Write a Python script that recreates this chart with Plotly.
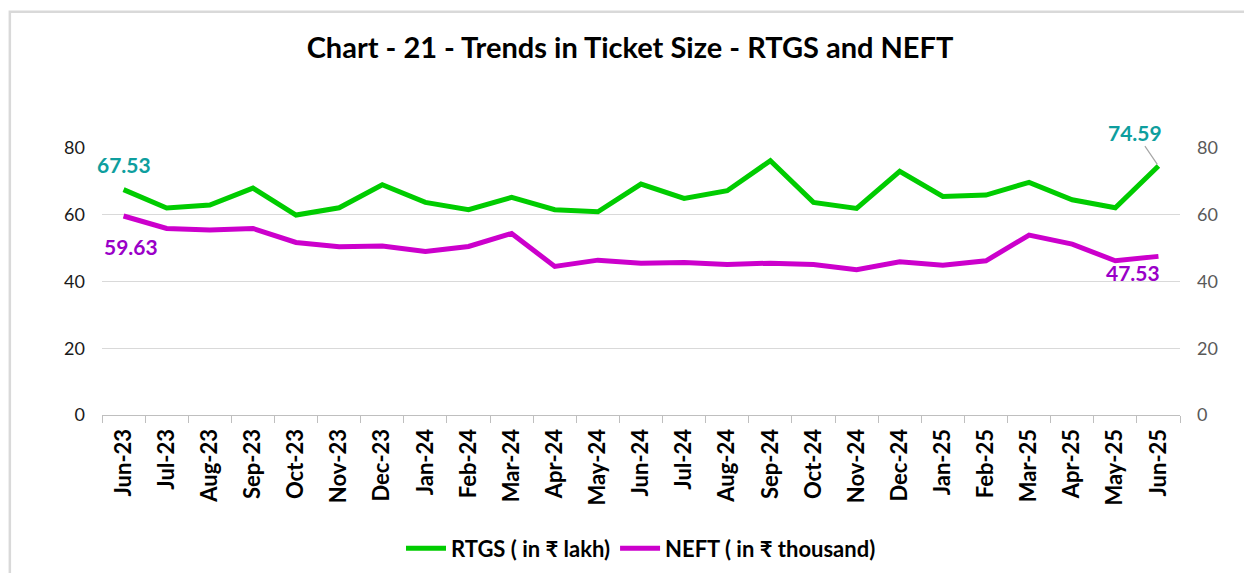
import plotly.graph_objects as go

# ── data ──────────────────────────────────────────────
months = [
    "Jun-23", "Jul-23", "Aug-23", "Sep-23", "Oct-23", "Nov-23", "Dec-23",
    "Jan-24", "Feb-24", "Mar-24", "Apr-24", "May-24", "Jun-24", "Jul-24",
    "Aug-24", "Sep-24", "Oct-24", "Nov-24", "Dec-24", "Jan-25", "Feb-25",
    "Mar-25", "Apr-25", "May-25", "Jun-25",
]
rtgs = [
    67.53, 62.0, 62.9, 68.0, 59.9, 62.1, 69.0, 63.7, 61.5, 65.2, 61.5, 60.9,
    69.2, 64.9, 67.2, 76.2, 63.7, 61.9, 73.0, 65.5, 65.9, 69.7, 64.5, 62.1, 74.59,
]
neft = [
    59.63, 55.9, 55.4, 55.9, 51.7, 50.4, 50.6, 49.0, 50.5, 54.4, 44.5, 46.4,
    45.5, 45.7, 45.1, 45.5, 45.1, 43.5, 45.9, 44.9, 46.2, 53.9, 51.2, 46.2, 47.53,
]
y_ticks = [0, 20, 40, 60, 80]

GREEN = "#00CC00"
MAGENTA = "#CC00CC"
TEAL = "#0E9E9E"
PURPLE = "#9A00C8"
FONT = "Lato"

fig = go.Figure()
fig.add_trace(go.Scatter(
    x=months, y=rtgs, mode="lines", name="RTGS ( in ₹ lakh)",
    line=dict(color=GREEN, width=5),
))
fig.add_trace(go.Scatter(
    x=months, y=neft, mode="lines", name="NEFT ( in ₹ thousand)",
    line=dict(color=MAGENTA, width=5), yaxis="y2",
))

# 首尾数据标签
lab_font = dict(family=FONT, size=21, color=TEAL)
annos = [
    dict(x=months[0], y=rtgs[0], yref="y", text=f"<b>{rtgs[0]:.2f}</b>",
         showarrow=False, yshift=25, font=lab_font),
    dict(x=months[-1], y=rtgs[-1], yref="y", text=f"<b>{rtgs[-1]:.2f}</b>",
         showarrow=True, arrowhead=0, arrowwidth=1.2, arrowcolor="#A6A6A6",
         ax=-23, ay=-34, standoff=2, font=lab_font),
    dict(x=months[0], y=neft[0], yref="y2", text=f"<b>{neft[0]:.2f}</b>",
         showarrow=False, yshift=-31, xshift=7, font=dict(lab_font, color=PURPLE)),
    dict(x=months[-1], y=neft[-1], yref="y2", text=f"<b>{neft[-1]:.2f}</b>",
         showarrow=False, yshift=-16, xshift=-25, font=dict(lab_font, color=PURPLE)),
]

fig.update_layout(
    width=1244, height=565,
    margin=dict(l=94, r=72, t=140, b=158, autoexpand=False),
    paper_bgcolor="white", plot_bgcolor="white",
    font=dict(family=FONT, color="#000000"),
    title=dict(
        text="<b>Chart - 21 - Trends in Ticket Size - RTGS and NEFT</b>",
        x=0.5, xanchor="center", y=0.93, yanchor="middle",
        font=dict(family=FONT, size=29, color="#000000"),
    ),
    showlegend=True,
    legend=dict(
        orientation="h", x=0.5, xanchor="center", y=-0.5, yanchor="middle",
        font=dict(family=FONT, size=22, color="#000000", weight="bold"),
        itemwidth=40, tracegroupgap=0,
    ),
    xaxis=dict(
        type="category", tickangle=-90, showgrid=False, automargin=False,
        showline=True, linecolor="#BFBFBF", linewidth=1.2,
        ticks="outside", tickson="boundaries", ticklen=7, tickcolor="#BFBFBF",
        tickfont=dict(family=FONT, size=22, color="#000000", weight="bold"),
        ticklabelstandoff=4,
        range=[-0.5, len(months) - 0.5],
    ),
    yaxis=dict(
        range=[0, 80], tickvals=y_ticks, showgrid=True, gridcolor="#D9D9D9",
        gridwidth=1.3, zeroline=False, showline=False, automargin=False,
        tickfont=dict(family=FONT, size=18, color="#1A1A1A"),
        ticklabelstandoff=16,
    ),
    yaxis2=dict(
        range=[0, 80], tickvals=y_ticks, overlaying="y", side="right",
        showgrid=False, zeroline=False, showline=False, automargin=False,
        tickfont=dict(family=FONT, size=18, color="#595959"),
        ticklabelstandoff=16,
    ),
    annotations=annos,
    shapes=[dict(
        type="rect", xref="paper", yref="paper",
        x0=-0.0855, x1=1.08, y0=-0.75, y1=1.51,
        line=dict(color="#D9D9D9", width=2.5), layer="below",
    )],
)

fig.write_html("out.html")
